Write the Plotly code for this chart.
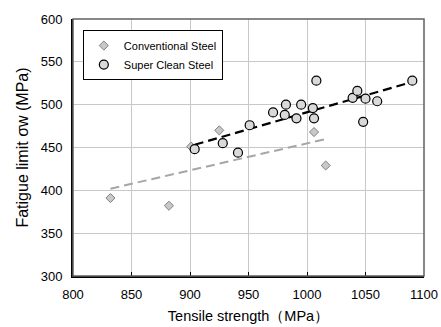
import numpy as np
import plotly.graph_objects as go

# Conventional steel
conv_ts = [832, 882, 901, 925, 1006, 1016]
conv_fl = [391, 382, 451, 470, 468, 429]

# Super clean steel
sc_ts = [904, 928, 941, 951, 971, 982, 981, 991, 995, 1005, 1006, 1008,
         1039, 1043, 1050, 1048, 1060, 1090]
sc_fl = [448, 455, 444, 476, 491, 500, 488, 484, 500, 496, 484, 528,
         508, 516, 507, 480, 504, 528]

x_ticks = [800, 850, 900, 950, 1000, 1050, 1100]
y_ticks = [300, 350, 400, 450, 500, 550, 600]


def fit(xs, ys):
    k, b = np.polyfit(xs, ys, 1)
    xx = np.array([min(xs), max(xs)], dtype=float)
    return xx, k * xx + b


fig = go.Figure()

cx, cy = fit(conv_ts, conv_fl)
sx, sy = fit(sc_ts, sc_fl)

fig.add_trace(go.Scatter(x=cx, y=cy, mode="lines", showlegend=False,
                         line=dict(color="#a6a6a6", width=2, dash="9px,5px")))
fig.add_trace(go.Scatter(x=sx, y=sy, mode="lines", showlegend=False,
                         line=dict(color="#000000", width=2.2, dash="9px,5px")))

fig.add_trace(go.Scatter(x=conv_ts, y=conv_fl, mode="markers", name="Conventional Steel",
                         marker=dict(symbol="diamond", size=7, color="#c8c8c8",
                                     line=dict(color="#808080", width=1))))
fig.add_trace(go.Scatter(x=sc_ts, y=sc_fl, mode="markers", name="Super Clean Steel",
                         marker=dict(symbol="circle", size=9, color="#d9d9d9",
                                     line=dict(color="#000000", width=1.2))))

fig.update_layout(
    width=441, height=327,
    margin=dict(l=73, r=17, t=19, b=51),
    paper_bgcolor="white", plot_bgcolor="white",
    font=dict(family="Liberation Sans, Arial, sans-serif", size=11, color="#000"),
    legend=dict(x=0.028, y=0.957, xanchor="left", yanchor="top",
                bordercolor="#000", borderwidth=1, bgcolor="white",
                font=dict(size=11), tracegroupgap=0, itemwidth=30),
    shapes=[dict(type="rect", xref="paper", yref="paper", x0=0, x1=1, y0=0, y1=1,
                 line=dict(color="#606060", width=1.5), layer="above")],
)
fig.update_xaxes(range=[800, 1100], tickvals=x_ticks, showgrid=True, gridcolor="#c8c8c8",
                 gridwidth=1, showline=True, linecolor="#000", linewidth=2,
                 ticks="inside", ticklen=4, tickcolor="#000", zeroline=False,
                 ticklabelstandoff=5, automargin=False,
                 title=dict(text="Tensile strength（MPa）", font=dict(size=14.5), standoff=10),
                 tickfont=dict(size=13))
fig.update_yaxes(range=[300, 600], tickvals=y_ticks, showgrid=True, gridcolor="#c8c8c8",
                 gridwidth=1, showline=True, linecolor="#000", linewidth=2,
                 ticks="", zeroline=False, ticklabelstandoff=6, automargin=False,
                 title=dict(text="Fatigue limit σw (MPa)", font=dict(size=16), standoff=8),
                 tickfont=dict(size=13))

fig.write_html("out.html")
